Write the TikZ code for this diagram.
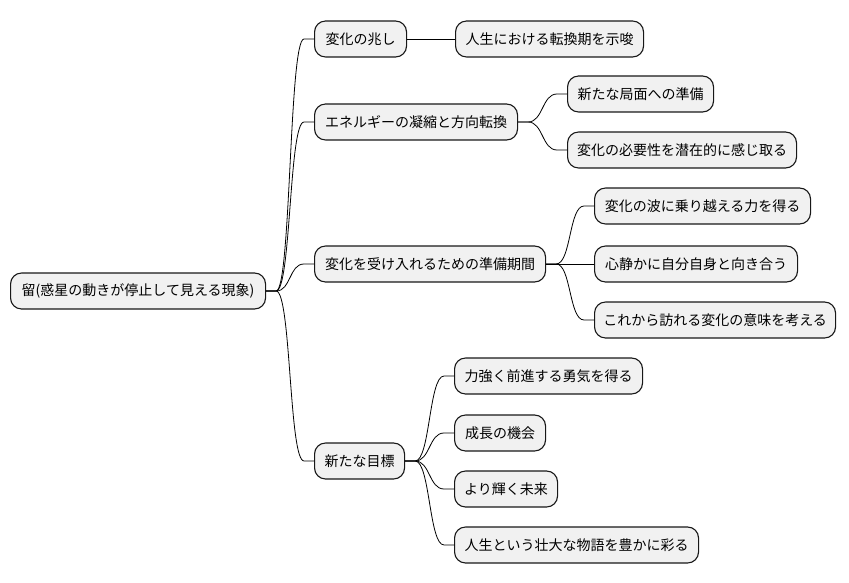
\documentclass[tikz,border=0pt]{standalone}
\usepackage{fontspec}
\newfontfamily\cjk{Noto Sans CJK JP}
\definecolor{boxfill}{HTML}{F1F1F1}
\definecolor{boxline}{HTML}{181818}
\tikzset{
  mmbox/.style={draw=boxline, fill=boxfill, rounded corners=11pt, line width=1.1pt,
    minimum height=36pt, inner sep=0pt, anchor=west, align=center,
    font=\cjk\fontsize{14}{16}\selectfont},
  link/.style={draw=black, line width=0.8pt},
}
\newcommand{\mmconn}[2]{%
  \draw[link] (#1.east) -- ++(10pt,0) .. controls +(15pt,0) and ([xshift=-25pt]#2.west) .. ([xshift=-10pt]#2.west) -- (#2.west);}
\begin{document}
\begin{tikzpicture}[x=1pt,y=-1pt]
\useasboundingbox (0,0) rectangle (849,583);
\node[mmbox, minimum width=255pt] (root) at (10,291) {留(惑星の動きが停止して見える現象)};

\node[mmbox, minimum width=92pt] (a) at (314,39) {変化の兆し};
\node[mmbox, minimum width=188pt] (a1) at (455,39) {人生における転換期を示唆};

\node[mmbox, minimum width=203pt] (b) at (314,122) {エネルギーの凝縮と方向転換};
\node[mmbox, minimum width=146pt] (b1) at (567,94) {新たな局面への準備};
\node[mmbox, minimum width=229pt] (b2) at (567,150) {変化の必要性を潜在的に感じ取る};

\node[mmbox, minimum width=231pt] (c) at (314,264) {変化を受け入れるための準備期間};
\node[mmbox, minimum width=216pt] (c1) at (594,206) {変化の波に乗り越える力を得る};
\node[mmbox, minimum width=203pt] (c2) at (594,264) {心静かに自分自身と向き合う};
\node[mmbox, minimum width=241pt] (c3) at (594,320) {これから訪れる変化の意味を考える};

\node[mmbox, minimum width=90pt] (d) at (314,461) {新たな目標};
\node[mmbox, minimum width=188pt] (d1) at (454,376) {力強く前進する勇気を得る};
\node[mmbox, minimum width=91pt] (d2) at (454,433) {成長の機会};
\node[mmbox, minimum width=103pt] (d3) at (454,489) {より輝く未来};
\node[mmbox, minimum width=244pt] (d4) at (454,545) {人生という壮大な物語を豊かに彩る};

\mmconn{root}{a}
\mmconn{root}{b}
\mmconn{root}{c}
\mmconn{root}{d}
\draw[link] (a.east) -- (a1.west);
\mmconn{b}{b1}
\mmconn{b}{b2}
\mmconn{c}{c1}
\draw[link] (c.east) -- (c2.west);
\mmconn{c}{c3}
\mmconn{d}{d1}
\mmconn{d}{d2}
\mmconn{d}{d3}
\mmconn{d}{d4}
\end{tikzpicture}
\end{document}
